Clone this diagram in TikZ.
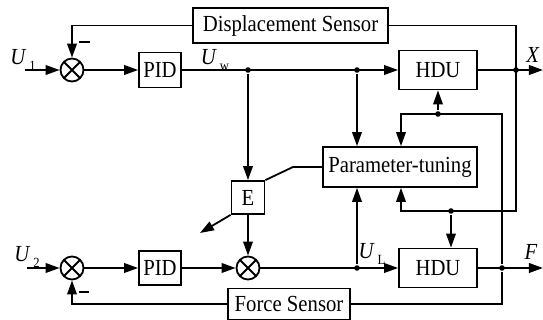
\documentclass[tikz,border=0pt]{standalone}
\usepackage{fontspec}
\setmainfont{Liberation Serif}[FakeStretch=0.9]
\usetikzlibrary{arrows.meta}
\newcommand{\siglbl}[2]{\textit{#1}\hspace{1.5pt}\raisebox{-0.6ex}{\scriptsize #2}}

\begin{document}
\begin{tikzpicture}[x=0.5pt, y=-0.5pt, line width=0.9pt,
	>={Triangle[length=7pt,width=4.8pt]},
	every node/.style={font=\fontsize{11.5}{13}\selectfont},
	blk/.style={draw, inner sep=0pt},
	sumc/.style={draw, circle, minimum size=11.5pt, inner sep=0pt,
		path picture={\draw (path picture bounding box.north west) -- (path picture bounding box.south east)
			(path picture bounding box.north east) -- (path picture bounding box.south west);}},
	jdot/.style={circle, fill, inner sep=0pt, minimum size=2.8pt},
	minus/.style={inner sep=0pt}]
	\useasboundingbox (0,0) rectangle (543,320);
	% blocks
	\node[sumc] (s1) at (72,70) {};
	\node[sumc] (s2) at (72,268) {};
	\node[sumc] (s3) at (248,268) {};
	\node[blk, minimum width=21pt, minimum height=17.5pt] (pid1) at (160,70) {PID};
	\node[blk, minimum width=21pt, minimum height=17pt] (pid2) at (160,268) {PID};
	\node[blk, minimum width=39pt, minimum height=19.5pt] (hdu1) at (438,70) {HDU};
	\node[blk, minimum width=39pt, minimum height=19.5pt] (hdu2) at (438,268) {HDU};
	\node[blk, minimum width=97.5pt, minimum height=17.5pt] (ds) at (290.5,25.5) {Displacement Sensor};
	\node[blk, minimum width=61pt, minimum height=15.5pt] (fs) at (289,304) {Force Sensor};
	\node[blk, minimum width=77pt, minimum height=20pt] (pt) at (400,167) {Parameter-tuning};
	\node[blk, minimum size=16.5pt] (e) at (248,197.5) {E};
	% junctions
	\foreach \n/\x/\y in {d1/248/70, d2/357/70, d3/516/70, d4/438/114, d5/502/268, d6/451/211, d7/357/268}
		\node[jdot] (\n) at (\x,\y) {};
	\coordinate (in1) at (25,70);
	\coordinate (in2) at (27,268);
	\coordinate (xo) at (543,70);
	\coordinate (fo) at (543,268);
	\coordinate (c1) at (516,211);
	\coordinate (c2) at (401,211);
	\coordinate (c3) at (502,114);
	\coordinate (c4) at (401,114);
	\coordinate (c5) at (293,167);
	\coordinate (c6) at (200,233);
	% upper loop
	\draw[->] (in1) -- (s1);
	\draw[->] (s1) -- (pid1);
	\draw[->] (pid1) -- (hdu1);
	\draw[->] (hdu1) -- (xo);
	\draw[->] (d1) -- (e);
	\draw[->] (d2) -- (d2 |- pt.north);
	\draw[->] (ds.west) -| (s1);
	\draw[->] (ds.east) -| (c1) -- (c2) -- (c2 |- pt.south);
	\draw[->] (d6) -- (d6 |- hdu2.north);
	\draw[->] (d5) -- (c3) -- (c4) -- (c4 |- pt.north);
	\draw[->] (d4) -- (hdu1);
	% lower loop
	\draw[->] (in2) -- (s2);
	\draw[->] (s2) -- (pid2);
	\draw[->] (pid2) -- (s3);
	\draw[->] (e) -- (s3);
	\draw[->] (s3) -- (hdu2);
	\draw[->] (hdu2) -- (fo);
	\draw[->] (d7) -- (d7 |- pt.south);
	\draw (fs.east) -| (d5);
	\draw[->] (fs.west) -| (s2);
	\draw (e.north east) -- (c5) -- (pt.west);
	\draw[->] (e.south west) -- (c6);
	% labels
	\node (lu1) at (23,60) {\siglbl{U}{1}};
	\node (luw) at (215,60) {\siglbl{U}{w}};
	\node (lx) at (533,55) {\textit{X}};
	\node (lu2) at (27,257) {\siglbl{U}{2}};
	\node (lul) at (372,254) {\siglbl{U}{L}};
	\node (lf) at (531,252) {\textit{F}};
	\node[minus] (m1) at (85,42) {\rule{5.5pt}{1.1pt}};
	\node[minus] (m2) at (84,292) {\rule{5.5pt}{1.1pt}};
\end{tikzpicture}
\end{document}
